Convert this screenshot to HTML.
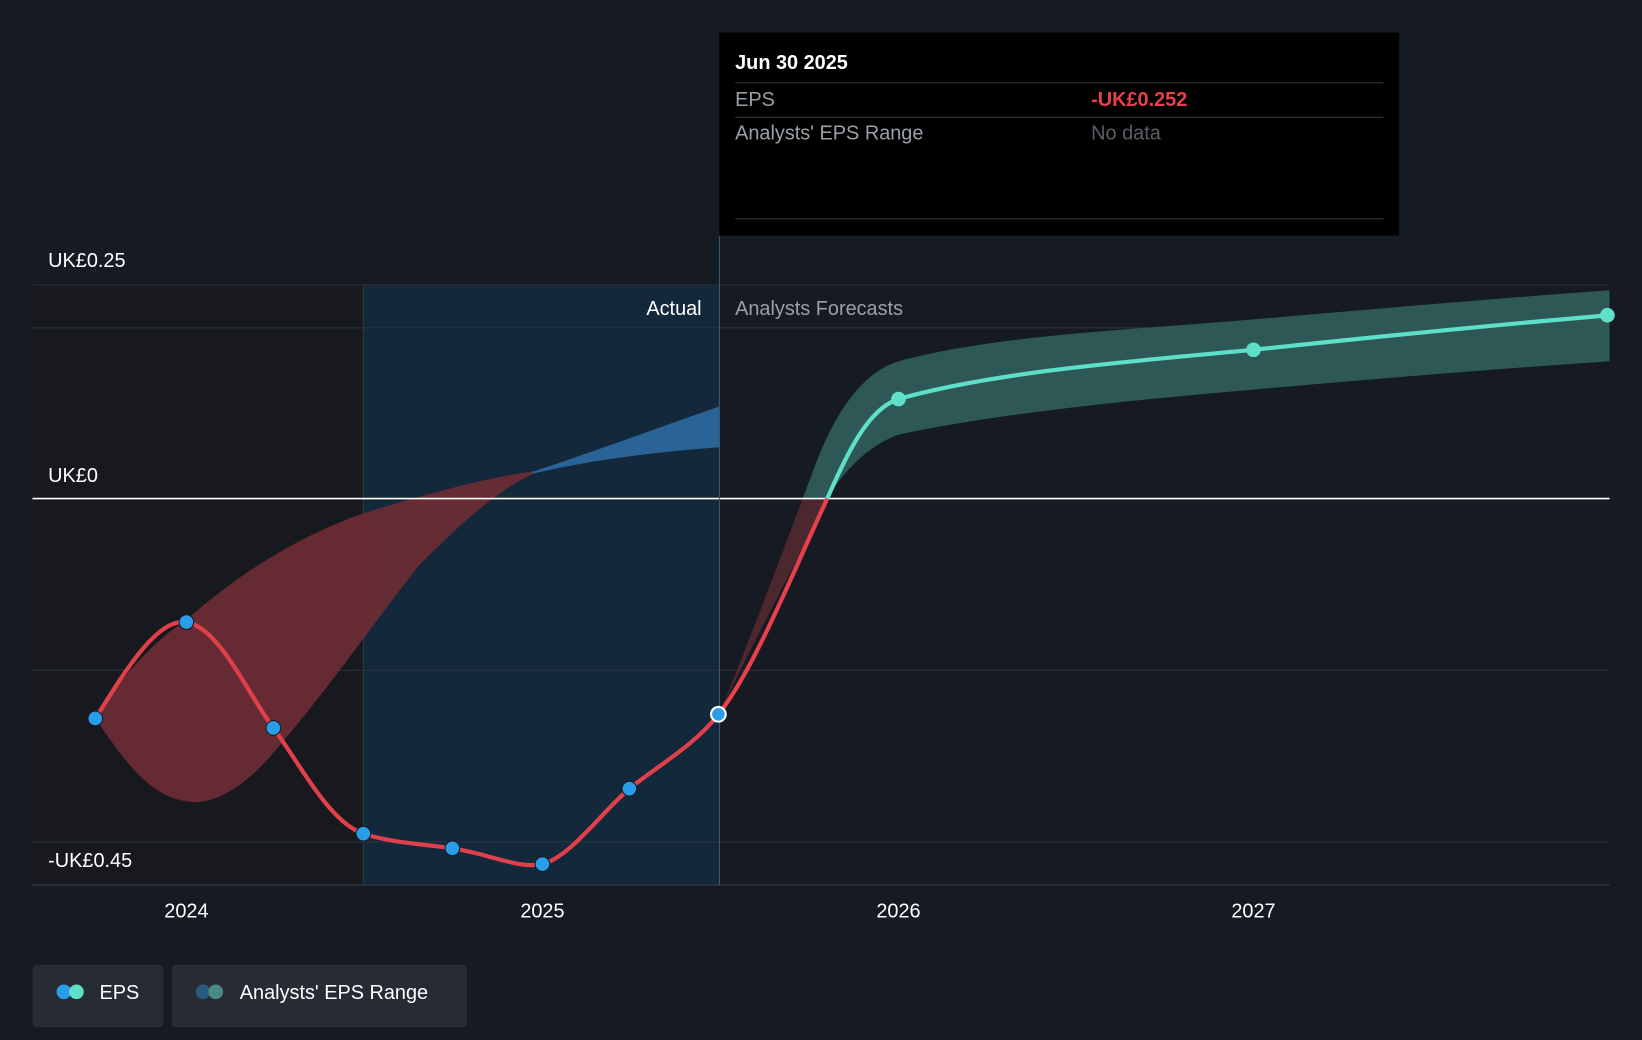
<!DOCTYPE html>
<html><head><style>
html,body{margin:0;padding:0;background:#151a23;}
svg{display:block;font-family:"Liberation Sans",Roboto,sans-serif;}
</style></head><body>
<svg width="1642" height="1040" viewBox="0 0 1568 993" preserveAspectRatio="none">
<defs>
<clipPath id="left"><rect x="0" y="0" width="508" height="993"/></clipPath>
<clipPath id="right"><rect x="508" y="0" width="1060" height="993"/></clipPath>
<clipPath id="above"><rect x="0" y="0" width="1568" height="476"/></clipPath>
<clipPath id="below"><rect x="0" y="476" width="1568" height="500"/></clipPath>
</defs>
<rect width="1568" height="993" fill="#151a23"/>
<rect x="31" y="272" width="316" height="573" fill="#17191f"/>
<rect x="347" y="272" width="340" height="573" fill="#13283a"/>
<line x1="347" y1="272" x2="347" y2="845" stroke="#2a3a4a" stroke-width="1"/>
<g stroke="#2c323c" stroke-width="1">
<line x1="31" y1="272" x2="1537" y2="272"/>
<line x1="31" y1="313" x2="1537" y2="313"/>
<line x1="31" y1="640" x2="1537" y2="640"/>
<line x1="31" y1="804" x2="1537" y2="804"/>
</g>
<line x1="31" y1="845" x2="1537" y2="845" stroke="#3a404a" stroke-width="1"/>
<path d="M91,686 C120,640 150,610 178,592 C230,545 290,510 347,490 C420,468 470,455 510,450 C570,430 630,408 687,388 L687,427 C620,432 560,440 510,452 C470,470 430,510 400,540 C360,590 320,650 260,720 C230,755 200,770 178,765 C140,760 115,720 91,686 Z" fill="#6e2c34" opacity="0.92" clip-path="url(#left)"/>
<path d="M347,490 C420,468 470,455 510,450 C570,430 630,408 687,388 L687,427 C620,432 560,440 510,452 Z" fill="#2a6496" clip-path="url(#right)"/>
<path d="M687,682 C720,600 750,520 780,440 C800,390 825,355 858,345 C950,320 1080,315 1197,305 C1310,295 1430,285 1537,277 L1537,345 C1430,352 1310,362 1197,372 C1080,382 950,395 858,415 C830,425 805,450 790,476 C760,540 720,610 687,682 Z" fill="#2e5855" clip-path="url(#above)"/>
<path d="M687,682 C720,600 750,520 780,440 L790,476 C760,540 720,610 687,682 Z" fill="#5a2a30" clip-path="url(#below)" opacity="0.8"/>
<line x1="31" y1="476" x2="1537" y2="476" stroke="#ffffff" stroke-width="1.5"/>
<line x1="687" y1="225" x2="687" y2="845" stroke="#3a5a78" stroke-width="1"/>
<path d="M91,686 C120,640 150,590 178,594 C210,600 235,660 261,695 C290,735 315,785 347,796 C375,805 405,806 432,810 C470,816 495,830 518,825 C545,818 575,775 601,753 C630,730 665,710 686,682" fill="none" stroke="#e0404a" stroke-width="4"/>
<path d="M686,682 C720,640 760,540 790,476" fill="none" stroke="#e8404a" stroke-width="4"/>
<path d="M790,476 C810,430 830,390 858,381 C950,355 1080,345 1197,334 C1310,322 1430,310 1537,301" fill="none" stroke="#5ee0c8" stroke-width="4"/>
<g fill="#2a9de8" stroke="#151a23" stroke-width="1">
<circle cx="91" cy="686" r="7"/><circle cx="178" cy="594" r="7"/><circle cx="261" cy="695" r="7"/>
<circle cx="347" cy="796" r="7"/><circle cx="432" cy="810" r="7"/><circle cx="518" cy="825" r="7"/>
<circle cx="601" cy="753" r="7"/>
</g>
<circle cx="686" cy="682" r="7" fill="#2a9de8" stroke="#fff" stroke-width="2"/>
<g fill="#5ee0c8"><circle cx="858" cy="381" r="7"/><circle cx="1197" cy="334" r="7"/><circle cx="1535" cy="301" r="7"/></g>
<g fill="#ffffff" font-size="19" font-weight="500">
<text x="46" y="255">UK£0.25</text>
<text x="46" y="460">UK£0</text>
<text x="46" y="828">-UK£0.45</text>
<text x="670" y="301" text-anchor="end">Actual</text>
<text x="178" y="876" text-anchor="middle">2024</text>
<text x="518" y="876" text-anchor="middle">2025</text>
<text x="858" y="876" text-anchor="middle">2026</text>
<text x="1197" y="876" text-anchor="middle">2027</text>
</g>
<text x="702" y="301" fill="#9aa0a8" font-size="19">Analysts Forecasts</text>
<rect x="687" y="31" width="649" height="194" fill="#000"/>
<text x="702" y="66" fill="#fff" font-size="19" font-weight="bold">Jun 30 2025</text>
<line x1="702" y1="79" x2="1321" y2="79" stroke="#3a3a3a"/>
<text x="702" y="101" fill="#9aa0a8" font-size="19">EPS</text>
<text x="1042" y="101" fill="#e8404a" font-size="19" font-weight="bold">-UK£0.252</text>
<line x1="702" y1="112" x2="1321" y2="112" stroke="#3a3a3a"/>
<text x="702" y="133" fill="#9aa0a8" font-size="19">Analysts' EPS Range</text>
<text x="1042" y="133" fill="#5a5f66" font-size="19">No data</text>
<line x1="702" y1="209" x2="1321" y2="209" stroke="#3a3a3a"/>
<rect x="31" y="921" width="125" height="60" rx="4" fill="#262b34"/>
<circle cx="61" cy="947" r="7" fill="#2a9de8"/><circle cx="73" cy="947" r="7" fill="#5ee0c8"/>
<text x="95" y="954" fill="#fff" font-size="19">EPS</text>
<rect x="164" y="921" width="282" height="60" rx="4" fill="#262b34"/>
<circle cx="194" cy="947" r="7" fill="#2a5a80"/><circle cx="206" cy="947" r="7" fill="#4a8a82"/>
<text x="229" y="954" fill="#fff" font-size="19">Analysts' EPS Range</text>
</svg>
</body></html>
